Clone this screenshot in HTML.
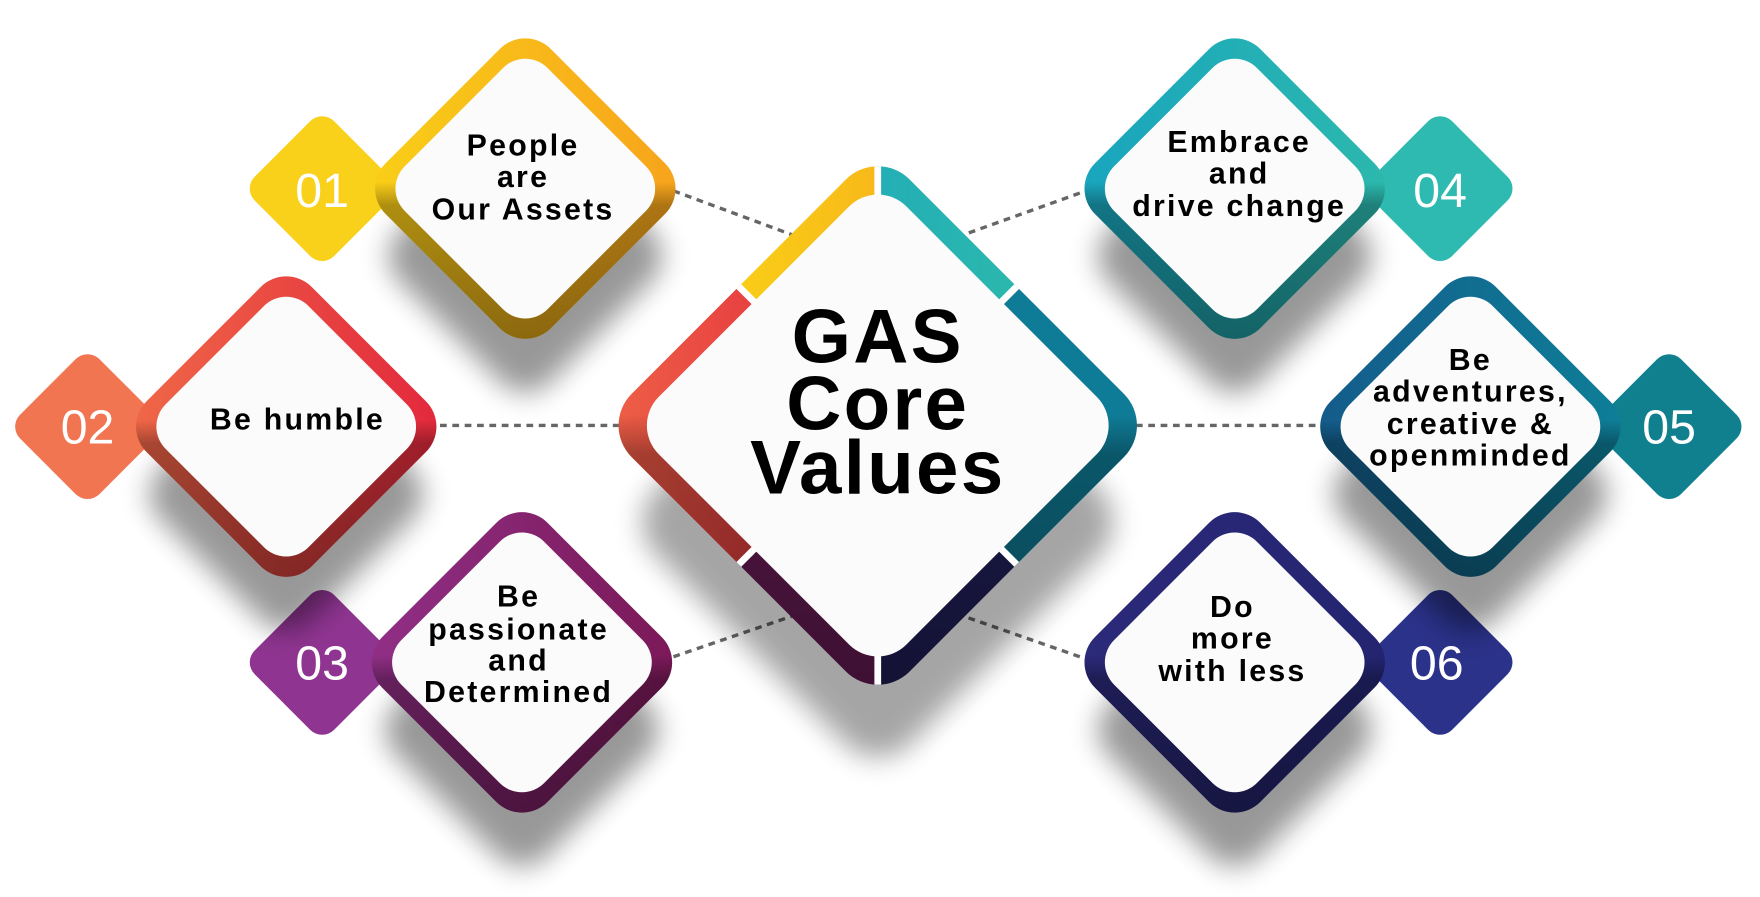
<!DOCTYPE html>
<html><head><meta charset="utf-8"><style>
html,body{margin:0;padding:0;background:#fff;}
svg{display:block;}
.t{font-family:"Liberation Sans",sans-serif;font-weight:bold;font-size:27px;letter-spacing:2px;fill:#000;text-anchor:middle;dominant-baseline:central;}
.n{font-family:"Liberation Sans",sans-serif;font-size:43px;fill:#fff;text-anchor:middle;dominant-baseline:central;}
.c{font-family:"Liberation Sans",sans-serif;font-weight:bold;font-size:68px;letter-spacing:2px;fill:#000;text-anchor:middle;dominant-baseline:central;}
</style></head><body>
<svg width="1760" height="897" viewBox="0 0 1568 799" preserveAspectRatio="none" xmlns="http://www.w3.org/2000/svg">
<defs>
<filter id="b" x="-50%" y="-50%" width="200%" height="200%"><feGaussianBlur stdDeviation="12"/></filter>
<linearGradient id="dk" x1="0" y1="0" x2="1" y2="1"><stop offset="0.48" stop-color="#000" stop-opacity="0"/><stop offset="0.55" stop-color="#000" stop-opacity="0.3"/><stop offset="1" stop-color="#000" stop-opacity="0.45"/></linearGradient>
<linearGradient id="g1" x1="0" y1="1" x2="1" y2="0"><stop offset="0" stop-color="#F9D017"/><stop offset="1" stop-color="#F7A21C"/></linearGradient>
<linearGradient id="g2" x1="0" y1="1" x2="1" y2="0"><stop offset="0" stop-color="#F06A48"/><stop offset="1" stop-color="#E2263C"/></linearGradient>
<linearGradient id="g3" x1="0" y1="1" x2="1" y2="0"><stop offset="0" stop-color="#913088"/><stop offset="1" stop-color="#7A1856"/></linearGradient>
<linearGradient id="g4" x1="0" y1="1" x2="1" y2="0"><stop offset="0" stop-color="#18A4BE"/><stop offset="1" stop-color="#2DB9AC"/></linearGradient>
<linearGradient id="g5" x1="0" y1="1" x2="1" y2="0"><stop offset="0" stop-color="#145A8A"/><stop offset="1" stop-color="#0E8098"/></linearGradient>
<linearGradient id="g6" x1="0" y1="1" x2="1" y2="0"><stop offset="0" stop-color="#2C2A7A"/><stop offset="1" stop-color="#232470"/></linearGradient>
<clipPath id="cc"><rect x="-175" y="-175" width="350" height="350" rx="40"/></clipPath>
</defs>

<g stroke="#666" stroke-width="3" stroke-dasharray="6 5" fill="none">
<line x1="600" y1="170" x2="708" y2="210"/>
<line x1="962" y1="172" x2="856" y2="210"/>
<line x1="392" y1="379" x2="552" y2="379"/>
<line x1="1012" y1="379" x2="1172" y2="379"/>
<line x1="600" y1="585" x2="708" y2="548"/>
<line x1="962" y1="585" x2="856" y2="548"/>
</g>

<g transform="translate(287,168) rotate(45)"><rect x="-50" y="-50" width="100" height="100" rx="15" fill="#F9D01A"/></g>
<g transform="translate(78,380) rotate(45)"><rect x="-50" y="-50" width="100" height="100" rx="15" fill="#F07550"/></g>
<g transform="translate(287,590) rotate(45)"><rect x="-50" y="-50" width="100" height="100" rx="15" fill="#8F3591"/></g>
<g transform="translate(1283,168) rotate(45)"><rect x="-50" y="-50" width="100" height="100" rx="15" fill="#2EBAB0"/></g>
<g transform="translate(1487,380) rotate(45)"><rect x="-50" y="-50" width="100" height="100" rx="15" fill="#10808F"/></g>
<g transform="translate(1283,590) rotate(45)"><rect x="-50" y="-50" width="100" height="100" rx="15" fill="#2B3289"/></g>
<text class="n" x="287" y="170">01</text>
<text class="n" x="78" y="381">02</text>
<text class="n" x="287" y="591">03</text>
<text class="n" x="1283" y="170">04</text>
<text class="n" x="1487" y="381">05</text>
<text class="n" x="1280" y="591">06</text>

<g transform="translate(468,168)">
<rect transform="translate(0,60) rotate(45)" x="-95" y="-95" width="190" height="190" rx="30" fill="#000" opacity=".4" filter="url(#b)"/>
<rect transform="rotate(45)" x="-104" y="-104" width="208" height="208" rx="32" fill="url(#g1)"/>
<rect transform="rotate(45)" x="-104" y="-104" width="208" height="208" rx="32" fill="url(#dk)"/>
<rect transform="rotate(45)" x="-90" y="-90" width="180" height="180" rx="28" fill="#fbfbfb"/>
</g>
<g transform="translate(255,380)">
<rect transform="translate(0,60) rotate(45)" x="-95" y="-95" width="190" height="190" rx="30" fill="#000" opacity=".4" filter="url(#b)"/>
<rect transform="rotate(45)" x="-104" y="-104" width="208" height="208" rx="32" fill="url(#g2)"/>
<rect transform="rotate(45)" x="-104" y="-104" width="208" height="208" rx="32" fill="url(#dk)"/>
<rect transform="rotate(45)" x="-90" y="-90" width="180" height="180" rx="28" fill="#fbfbfb"/>
</g>
<g transform="translate(465,590)">
<rect transform="translate(0,60) rotate(45)" x="-95" y="-95" width="190" height="190" rx="30" fill="#000" opacity=".4" filter="url(#b)"/>
<rect transform="rotate(45)" x="-104" y="-104" width="208" height="208" rx="32" fill="url(#g3)"/>
<rect transform="rotate(45)" x="-104" y="-104" width="208" height="208" rx="32" fill="url(#dk)"/>
<rect transform="rotate(45)" x="-90" y="-90" width="180" height="180" rx="28" fill="#fbfbfb"/>
</g>
<g transform="translate(1100,168)">
<rect transform="translate(0,60) rotate(45)" x="-95" y="-95" width="190" height="190" rx="30" fill="#000" opacity=".4" filter="url(#b)"/>
<rect transform="rotate(45)" x="-104" y="-104" width="208" height="208" rx="32" fill="url(#g4)"/>
<rect transform="rotate(45)" x="-104" y="-104" width="208" height="208" rx="32" fill="url(#dk)"/>
<rect transform="rotate(45)" x="-90" y="-90" width="180" height="180" rx="28" fill="#fbfbfb"/>
</g>
<g transform="translate(1310,380)">
<rect transform="translate(0,60) rotate(45)" x="-95" y="-95" width="190" height="190" rx="30" fill="#000" opacity=".4" filter="url(#b)"/>
<rect transform="rotate(45)" x="-104" y="-104" width="208" height="208" rx="32" fill="url(#g5)"/>
<rect transform="rotate(45)" x="-104" y="-104" width="208" height="208" rx="32" fill="url(#dk)"/>
<rect transform="rotate(45)" x="-90" y="-90" width="180" height="180" rx="28" fill="#fbfbfb"/>
</g>
<g transform="translate(1100,590)">
<rect transform="translate(0,60) rotate(45)" x="-95" y="-95" width="190" height="190" rx="30" fill="#000" opacity=".4" filter="url(#b)"/>
<rect transform="rotate(45)" x="-104" y="-104" width="208" height="208" rx="32" fill="url(#g6)"/>
<rect transform="rotate(45)" x="-104" y="-104" width="208" height="208" rx="32" fill="url(#dk)"/>
<rect transform="rotate(45)" x="-90" y="-90" width="180" height="180" rx="28" fill="#fbfbfb"/>
</g>

<rect transform="translate(782,465) rotate(45)" x="-160" y="-160" width="320" height="320" rx="40" fill="#000" opacity=".35" filter="url(#b)"/>
<g transform="translate(782,379) rotate(45)">
<g clip-path="url(#cc)">
<polygon points="0,0 -200,0 -200,-200" fill="url(#g1)"/>
<polygon points="0,0 -200,0 -200,200 0,200" fill="url(#g2)"/>
<polygon points="0,0 0,200 200,200" fill="#6E1D5A"/>
<polygon points="0,0 200,200 200,0" fill="#23215F"/>
<polygon points="0,0 200,0 200,-200 0,-200" fill="#0F7C97"/>
<polygon points="0,0 0,-200 -200,-200" fill="url(#g4)"/>
<rect x="-175" y="-175" width="350" height="350" fill="url(#dk)"/>
<g stroke="#fff" stroke-width="6">
<line x1="-200" y1="0" x2="200" y2="0"/>
<line x1="0" y1="-200" x2="0" y2="200"/>
<line x1="-200" y1="-200" x2="200" y2="200"/>
</g>
</g>
<rect x="-156" y="-156" width="312" height="312" rx="36" fill="#fbfbfb"/>
</g>

<text class="c" x="782" y="300">GAS</text>
<text class="c" x="782" y="360">Core</text>
<text class="c" x="782" y="417">Values</text>

<text class="t" x="466" y="130">People</text>
<text class="t" x="466" y="158">are</text>
<text class="t" x="466" y="187">Our Assets</text>

<text class="t" x="265" y="374">Be humble</text>

<text class="t" x="462" y="532">Be</text>
<text class="t" x="462" y="561">passionate</text>
<text class="t" x="462" y="589">and</text>
<text class="t" x="462" y="617">Determined</text>

<text class="t" x="1104" y="127">Embrace</text>
<text class="t" x="1104" y="155">and</text>
<text class="t" x="1104" y="184">drive change</text>

<text class="t" x="1310" y="321">Be</text>
<text class="t" x="1310" y="349">adventures,</text>
<text class="t" x="1310" y="378">creative &amp;</text>
<text class="t" x="1310" y="406">openminded</text>

<text class="t" x="1098" y="541">Do</text>
<text class="t" x="1098" y="569">more</text>
<text class="t" x="1098" y="598">with less</text>
</svg>
</body></html>
